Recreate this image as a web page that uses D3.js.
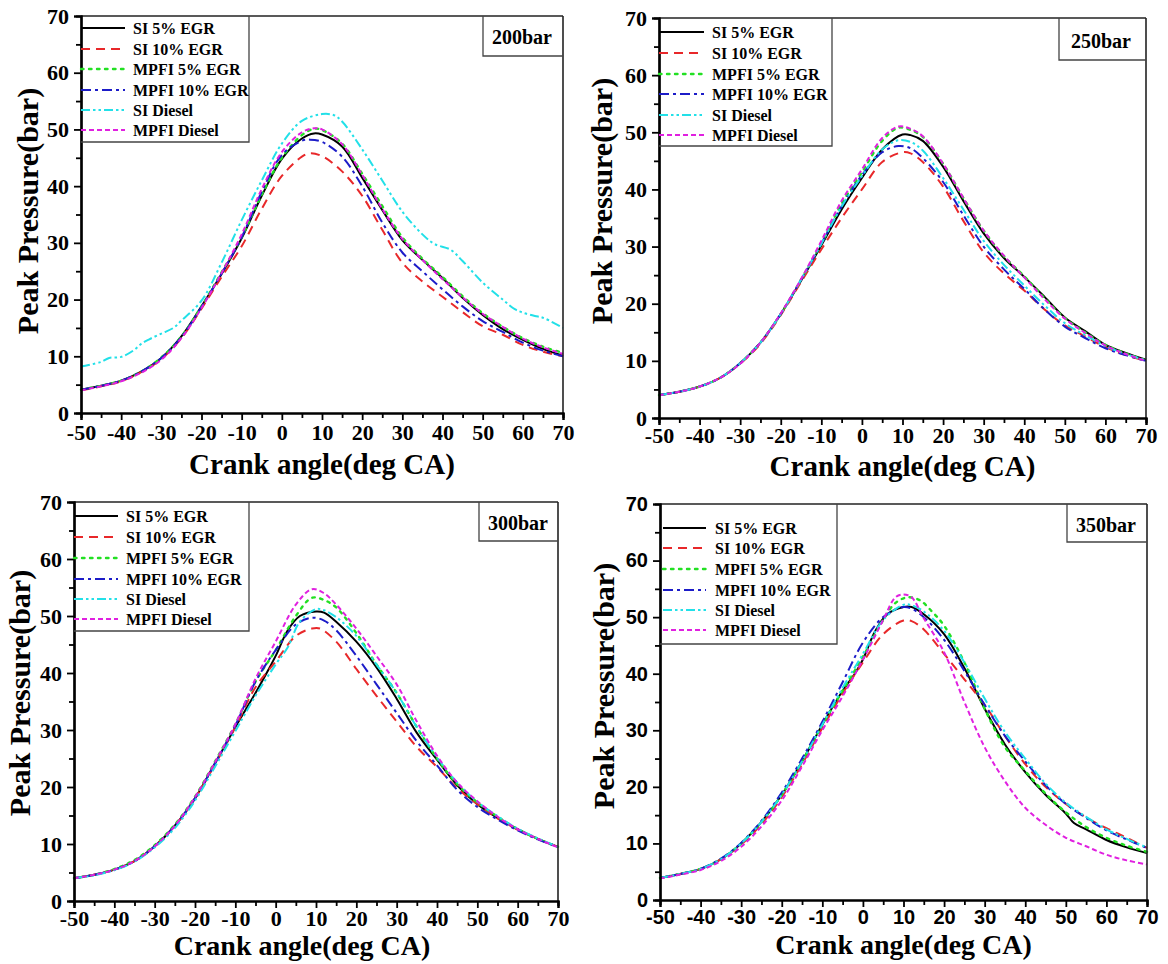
<!DOCTYPE html>
<html><head><meta charset="utf-8">
<script src="https://cdn.jsdelivr.net/npm/d3@7/dist/d3.min.js"></script>
<style>body{margin:0;background:#fff}svg{display:block}</style>
</head><body>
<svg id="c" width="1168" height="964"></svg>
<script>
// ---------- DATA ----------
const xTicks = [-50,-40,-30,-20,-10,0,10,20,30,40,50,60,70];
const yTicks = [0,10,20,30,40,50,60,70];
const seriesNames = ["SI 5% EGR","SI 10% EGR","MPFI 5% EGR","MPFI 10% EGR","SI Diesel","MPFI Diesel"];
const panelLabels = ["200bar","250bar","300bar","350bar"];
const xLabel = "Crank angle(deg CA)";
const yLabel = "Peak Pressure(bar)";

// 200 bar
const p200_si5  = [[-50,4.1],[-45,4.8],[-40,5.7],[-35,7.3],[-30,9.7],[-25,13.5],[-20,18.8],[-15,24.5],[-10,30.8],[-5,38.3],[0,44.8],[5,48.4],[8,49.3],[10,49.1],[15,47.0],[20,41.5],[25,35.8],[30,30.5],[35,27.0],[40,23.8],[45,20.3],[50,17.3],[55,14.8],[60,12.9],[65,11.3],[70,10.1]];
const p200_si10 = [[-50,4.0],[-45,4.7],[-40,5.6],[-35,7.2],[-30,9.5],[-25,13.2],[-20,18.4],[-15,24.0],[-10,29.4],[-5,36.0],[0,41.8],[5,45.2],[7,45.8],[10,45.3],[15,42.6],[20,38.3],[25,32.3],[30,26.5],[35,23.2],[40,20.5],[45,17.8],[50,15.3],[55,13.8],[60,12.0],[65,10.8],[70,10.0]];
const p200_mp5  = [[-50,4.1],[-45,4.8],[-40,5.7],[-35,7.3],[-30,9.8],[-25,13.5],[-20,18.8],[-15,24.8],[-10,31.0],[-5,38.5],[0,45.0],[5,49.0],[8,50.1],[10,49.9],[15,47.5],[20,42.2],[25,36.5],[30,31.0],[35,27.2],[40,24.0],[45,20.6],[50,17.6],[55,15.2],[60,13.2],[65,11.7],[70,10.6]];
const p200_mp10 = [[-50,4.1],[-45,4.8],[-40,5.7],[-35,7.3],[-30,9.7],[-25,13.4],[-20,18.7],[-15,24.6],[-10,31.0],[-5,39.0],[0,45.5],[5,48.0],[7,48.2],[10,47.8],[15,45.2],[20,40.0],[25,33.6],[30,28.3],[35,25.0],[40,21.8],[45,18.8],[50,16.2],[55,14.3],[60,12.4],[65,11.0],[70,10.0]];
const p200_sid  = [[-50,8.2],[-45,9.0],[-43,9.7],[-40,9.9],[-37,11.0],[-35,12.2],[-33,13.0],[-30,14.0],[-27,15.0],[-25,16.3],[-20,19.8],[-15,26.5],[-10,34.0],[-5,41.0],[0,47.5],[5,51.5],[10,52.7],[13,52.5],[15,51.4],[20,46.5],[25,41.0],[30,35.5],[35,31.5],[38,29.8],[42,28.8],[45,26.8],[50,23.0],[55,20.0],[58,18.3],[60,17.7],[63,17.1],[65,16.8],[70,15.0]];
const p200_mpd  = [[-50,4.0],[-45,4.7],[-40,5.6],[-35,7.1],[-30,9.4],[-25,13.2],[-20,18.5],[-15,24.7],[-10,31.5],[-5,39.5],[0,46.0],[5,49.5],[8,50.2],[10,50.0],[15,47.4],[20,42.0],[25,36.0],[30,30.7],[35,27.0],[40,23.6],[45,20.4],[50,17.5],[55,15.2],[60,13.1],[65,11.6],[70,10.4]];

// 250 bar
const p250_si5  = [[-50,4.0],[-45,4.6],[-40,5.5],[-35,7.0],[-30,9.6],[-25,13.2],[-20,18.2],[-15,24.0],[-10,30.2],[-5,36.5],[0,42.0],[5,47.0],[10,49.6],[12,49.5],[15,48.5],[20,44.0],[25,38.0],[30,32.3],[35,28.0],[40,24.7],[45,21.2],[50,17.6],[55,15.2],[60,12.8],[65,11.4],[70,10.2]];
const p250_si10 = [[-50,4.0],[-45,4.6],[-40,5.5],[-35,7.0],[-30,9.5],[-25,13.0],[-20,18.0],[-15,23.8],[-10,29.5],[-5,35.0],[0,40.0],[5,44.8],[10,46.5],[12,46.3],[15,44.8],[20,40.5],[25,34.5],[30,29.0],[35,25.3],[40,22.3],[45,19.0],[50,16.2],[55,14.3],[60,12.4],[65,11.0],[70,10.0]];
const p250_mp5  = [[-50,4.0],[-45,4.6],[-40,5.5],[-35,7.0],[-30,9.6],[-25,13.2],[-20,18.2],[-15,24.2],[-10,30.5],[-5,37.5],[0,43.0],[5,48.5],[9,50.8],[12,50.4],[15,49.2],[20,44.5],[25,38.5],[30,32.8],[35,28.3],[40,24.8],[45,21.0],[50,17.5],[55,15.0],[60,12.8],[65,11.3],[70,10.1]];
const p250_mp10 = [[-50,4.0],[-45,4.6],[-40,5.5],[-35,7.0],[-30,9.6],[-25,13.2],[-20,18.2],[-15,24.2],[-10,30.5],[-5,37.0],[0,42.5],[5,46.5],[9,47.6],[12,47.2],[15,45.5],[20,41.3],[25,35.5],[30,30.0],[35,26.0],[40,22.6],[45,19.0],[50,16.0],[55,14.0],[60,12.2],[65,11.0],[70,10.0]];
const p250_sid  = [[-50,4.0],[-45,4.6],[-40,5.5],[-35,7.0],[-30,9.6],[-25,13.2],[-20,18.2],[-15,24.2],[-10,30.5],[-5,37.0],[0,42.3],[5,47.0],[9,48.6],[12,48.3],[15,46.8],[20,42.0],[25,36.5],[30,31.0],[35,26.8],[40,23.2],[45,19.7],[50,16.6],[55,14.5],[60,12.6],[65,11.2],[70,10.1]];
const p250_mpd  = [[-50,4.0],[-45,4.6],[-40,5.5],[-35,7.0],[-30,9.5],[-25,13.2],[-20,18.3],[-15,24.3],[-10,31.0],[-5,38.0],[0,43.5],[5,49.0],[9,51.0],[12,50.6],[15,49.3],[20,44.5],[25,38.5],[30,32.8],[35,28.4],[40,24.6],[45,20.8],[50,17.4],[55,14.9],[60,12.7],[65,11.2],[70,10.0]];

// 300 bar
const p300_si5  = [[-50,4.0],[-45,4.6],[-40,5.5],[-35,7.0],[-30,9.6],[-25,13.2],[-20,18.0],[-15,24.2],[-10,30.5],[-5,36.5],[-2,40.3],[0,43.0],[3,47.5],[6,50.0],[10,50.8],[12,50.6],[15,49.0],[20,45.5],[25,41.0],[30,35.5],[35,29.5],[40,24.8],[45,20.3],[50,17.0],[55,14.6],[60,12.6],[65,10.9],[70,9.5]];
const p300_si10 = [[-50,4.0],[-45,4.6],[-40,5.5],[-35,7.0],[-30,9.6],[-25,13.2],[-20,18.0],[-15,24.0],[-10,30.5],[-5,37.5],[0,42.0],[5,46.5],[9,47.8],[11,47.8],[15,45.5],[20,40.7],[25,36.0],[30,31.5],[35,27.0],[40,23.5],[45,19.8],[50,17.0],[55,14.5],[60,12.5],[65,10.9],[70,9.5]];
const p300_mp5  = [[-50,4.0],[-45,4.6],[-40,5.6],[-35,7.2],[-30,9.8],[-25,13.4],[-20,18.3],[-15,24.5],[-10,31.0],[-5,38.5],[0,44.0],[5,50.0],[9,53.2],[12,52.8],[15,51.5],[20,47.0],[25,41.5],[30,36.5],[35,30.5],[40,25.0],[45,20.5],[50,17.3],[55,14.8],[60,12.6],[65,10.9],[70,9.5]];
const p300_mp10 = [[-50,4.0],[-45,4.6],[-40,5.5],[-35,7.0],[-30,9.6],[-25,13.2],[-20,18.0],[-15,24.2],[-10,30.8],[-5,38.5],[0,44.0],[5,48.5],[9,49.7],[12,49.2],[15,47.5],[20,43.0],[25,38.0],[30,33.0],[35,28.0],[40,23.8],[45,19.5],[50,16.5],[55,14.3],[60,12.4],[65,10.8],[70,9.5]];
const p300_sid  = [[-50,4.0],[-45,4.5],[-40,5.4],[-35,6.9],[-30,9.4],[-25,12.8],[-20,17.6],[-15,23.6],[-10,29.8],[-5,36.0],[0,41.5],[3,44.5],[6,49.0],[10,51.2],[12,51.0],[15,49.8],[20,46.5],[25,41.5],[30,36.5],[35,30.5],[40,25.2],[45,20.8],[50,17.4],[55,14.9],[60,12.7],[65,11.0],[70,9.5]];
const p300_mpd  = [[-50,4.0],[-45,4.6],[-40,5.5],[-35,7.0],[-30,9.6],[-25,13.2],[-20,18.2],[-15,24.4],[-10,31.0],[-5,39.0],[0,45.5],[5,52.0],[9,54.7],[12,54.0],[15,52.0],[20,47.8],[25,43.0],[30,38.0],[35,31.5],[40,25.5],[45,20.8],[50,17.5],[55,14.8],[60,12.6],[65,10.9],[70,9.4]];

// 350 bar
const p350_si5  = [[-50,3.9],[-45,4.6],[-40,5.5],[-35,7.2],[-30,10.0],[-25,13.8],[-20,18.6],[-15,24.5],[-10,31.0],[-5,37.0],[-2,40.0],[0,42.5],[3,47.5],[6,50.5],[10,51.8],[12,51.8],[15,50.5],[20,47.0],[25,41.0],[30,33.8],[35,27.5],[40,22.6],[45,18.6],[50,15.3],[52,13.6],[55,12.5],[60,10.6],[65,9.3],[70,8.3]];
const p350_si10 = [[-50,3.9],[-45,4.6],[-40,5.5],[-35,7.2],[-30,9.8],[-25,13.4],[-20,18.2],[-15,24.0],[-10,30.4],[-5,36.5],[0,42.0],[5,47.0],[10,49.4],[12,49.3],[15,47.8],[20,43.5],[25,39.0],[30,34.5],[35,29.0],[40,24.0],[45,20.0],[50,17.0],[55,14.6],[60,12.7],[65,11.0],[70,9.2]];
const p350_mp5  = [[-50,3.9],[-45,4.6],[-40,5.5],[-35,7.2],[-30,10.0],[-25,13.8],[-20,18.6],[-15,24.5],[-10,31.0],[-5,37.0],[0,43.0],[5,49.5],[8,52.5],[11,53.5],[14,53.0],[17,51.0],[20,48.5],[25,42.0],[30,33.8],[35,27.0],[40,22.8],[45,18.8],[50,15.5],[55,12.9],[60,11.0],[65,9.6],[70,8.5]];
const p350_mp10 = [[-50,3.9],[-45,4.6],[-40,5.5],[-35,7.3],[-30,10.1],[-25,14.0],[-20,19.0],[-15,25.0],[-10,31.5],[-5,38.5],[0,45.5],[5,50.0],[10,51.8],[12,51.5],[15,50.0],[20,46.0],[25,40.5],[30,34.5],[35,29.0],[40,24.5],[45,20.3],[50,17.0],[55,14.5],[60,12.3],[65,10.7],[70,9.2]];
const p350_sid  = [[-50,3.9],[-45,4.6],[-40,5.5],[-35,7.2],[-30,10.0],[-25,13.8],[-20,18.6],[-15,24.5],[-10,31.0],[-5,37.5],[0,43.5],[5,49.5],[10,52.2],[12,52.1],[15,51.0],[20,47.6],[25,42.0],[30,35.6],[35,29.7],[40,25.0],[45,20.6],[50,17.2],[55,14.7],[60,12.5],[65,10.8],[70,9.3]];
const p350_mpd  = [[-50,3.8],[-45,4.5],[-40,5.3],[-35,6.9],[-30,9.4],[-25,13.0],[-20,17.6],[-15,23.6],[-10,30.0],[-5,36.0],[0,42.5],[5,49.5],[8,53.5],[10,54.0],[12,53.5],[15,49.8],[20,43.8],[25,35.0],[30,27.0],[35,21.0],[40,16.3],[45,13.3],[50,11.0],[55,9.5],[60,8.0],[65,7.0],[70,6.3]];

const panelSeries = [
  [p200_si5,p200_si10,p200_mp5,p200_mp10,p200_sid,p200_mpd],
  [p250_si5,p250_si10,p250_mp5,p250_mp10,p250_sid,p250_mpd],
  [p300_si5,p300_si10,p300_mp5,p300_mp10,p300_sid,p300_mpd],
  [p350_si5,p350_si10,p350_mp5,p350_mp10,p350_sid,p350_mpd]
];

// ---------- STYLES / LAYOUT ----------
const styles = [
  {color:"#000000", dash:null, w:2},
  {color:"#e8282a", dash:"9,6", w:2},
  {color:"#22e022", dash:"2.5,5.5", w:2.4},
  {color:"#1c1cc8", dash:"10,4,3,4", w:2},
  {color:"#22e0e8", dash:"9,3,2.5,3,2.5,3", w:2},
  {color:"#e020e0", dash:"5,3", w:2}
];
const serif = "'Liberation Serif','Times New Roman',serif";
const sans = "'Liberation Sans',Arial,sans-serif";

const layouts = [
  {l:81,r:563,t:16,b:413, legR:249, legB:142, rows:[28,49,69,90,110,130], lx0:81, lx1:125, tx:133,
   boxL:483, boxB:56, bx:522, by:37, tickFont:serif, xtShift:0, ytY:211, ytX:28, xtY:61, xtF:29, tp:5},
  {l:659,r:1146,t:18,b:418, legR:832, legB:146, rows:[32,53,74,94,115,135], lx0:659, lx1:704, tx:712,
   boxL:1059, boxB:60, bx:1101, by:41, tickFont:serif, xtShift:0, ytY:201, ytX:602, xtY:58, xtF:29, tp:3},
  {l:74,r:558,t:502,b:901, legR:249, legB:631, rows:[516,537,558,579,599,619], lx0:74, lx1:118, tx:126,
   boxL:479, boxB:541, bx:518, by:523, tickFont:serif, xtShift:-14, ytY:693, ytX:20, xtY:54, xtF:28, tp:3},
  {l:660,r:1147,t:504,b:900, legR:837, legB:644, rows:[528,548,569,590,610,630], lx0:663, lx1:706, tx:715,
   boxL:1067, boxB:542, bx:1106, by:525, tickFont:sans, xtShift:0, ytY:686, ytX:604, xtY:54, xtF:28, tp:3}
];

const svg = d3.select("#c");
const fmt = d => String(d);

layouts.forEach((L, pi) => {
  const g = svg.append("g");
  const x = d3.scaleLinear().domain([-50,70]).range([L.l, L.r]);
  const y = d3.scaleLinear().domain([0,70]).range([L.b, L.t]);

  // series
  const line = d3.line().x(d=>x(d[0])).y(d=>y(d[1])).curve(d3.curveCatmullRom.alpha(0.5));
  panelSeries[pi].forEach((s, si) => {
    const st = styles[si];
    g.append("path").datum(s).attr("d", line)
      .attr("fill","none").attr("stroke", st.color).attr("stroke-width", st.w)
      .attr("stroke-dasharray", st.dash).attr("stroke-linecap", si===2 ? "round" : "butt");
  });

  // frame top & right
  g.append("line").attr("x1",L.l).attr("x2",L.r).attr("y1",L.t).attr("y2",L.t).attr("stroke","#222").attr("stroke-width",1.6);
  g.append("line").attr("x1",L.r).attr("x2",L.r).attr("y1",L.t).attr("y2",L.b).attr("stroke","#222").attr("stroke-width",1.6);

  // axes
  const xAxis = d3.axisBottom(x).tickValues(xTicks).tickSize(7).tickPadding(L.tp).tickFormat(fmt);
  const xMinor = d3.axisBottom(x).tickValues(d3.range(-45,70,10)).tickSize(5).tickFormat("");
  const yAxis = d3.axisLeft(y).tickValues(yTicks).tickSize(7).tickPadding(5).tickFormat(fmt);
  const yMinor = d3.axisLeft(y).tickValues(d3.range(5,70,10)).tickSize(5).tickFormat("");

  const gx = g.append("g").attr("transform",`translate(0,${L.b})`).call(xAxis);
  g.append("g").attr("transform",`translate(0,${L.b})`).call(xMinor);
  const gy = g.append("g").attr("transform",`translate(${L.l},0)`).call(yAxis);
  g.append("g").attr("transform",`translate(${L.l},0)`).call(yMinor);
  g.selectAll(".domain").attr("stroke","#000").attr("stroke-width",2.2);
  g.selectAll(".tick line").attr("stroke","#000").attr("stroke-width",1.8);
  g.selectAll(".tick text").attr("font-family", L.tickFont).attr("font-weight","bold")
    .attr("font-size", pi===3 ? 20 : 22).attr("fill","#000");
  gx.selectAll(".tick text").attr("dy","0.7em");

  // axis titles
  g.append("text").attr("x",(L.l+L.r)/2 + L.xtShift).attr("y",L.b+L.xtY)
    .attr("text-anchor","middle").attr("font-family",serif).attr("font-weight","bold")
    .attr("font-size",L.xtF).text(xLabel);
  g.append("text").attr("transform",`translate(${L.ytX+10},${L.ytY}) rotate(-90)`)
    .attr("text-anchor","middle").attr("font-family",serif).attr("font-weight","bold")
    .attr("font-size",30).text(yLabel);

  // legend box
  g.append("path").attr("d",`M${L.legR},${L.t}V${L.legB}H${L.l}`)
    .attr("fill","none").attr("stroke","#444").attr("stroke-width",1.3);
  seriesNames.forEach((n, si) => {
    const st = styles[si];
    const ry = L.rows[si];
    g.append("line").attr("x1",L.lx0).attr("x2",L.lx1).attr("y1",ry).attr("y2",ry)
      .attr("stroke",st.color).attr("stroke-width",st.w).attr("stroke-dasharray",st.dash)
      .attr("stroke-linecap", si===2 ? "round" : "butt");
    g.append("text").attr("x",L.tx).attr("y",ry+5.5).attr("font-family",serif)
      .attr("font-weight","bold").attr("font-size",16).text(n);
  });

  // pressure label box
  g.append("path").attr("d",`M${L.boxL},${L.t}V${L.boxB}H${L.r}`)
    .attr("fill","none").attr("stroke","#444").attr("stroke-width",1.3);
  g.append("text").attr("x",L.bx).attr("y",L.by+7).attr("text-anchor","middle")
    .attr("font-family",serif).attr("font-weight","bold").attr("font-size",20).text(panelLabels[pi]);
});
</script>
</body></html>
